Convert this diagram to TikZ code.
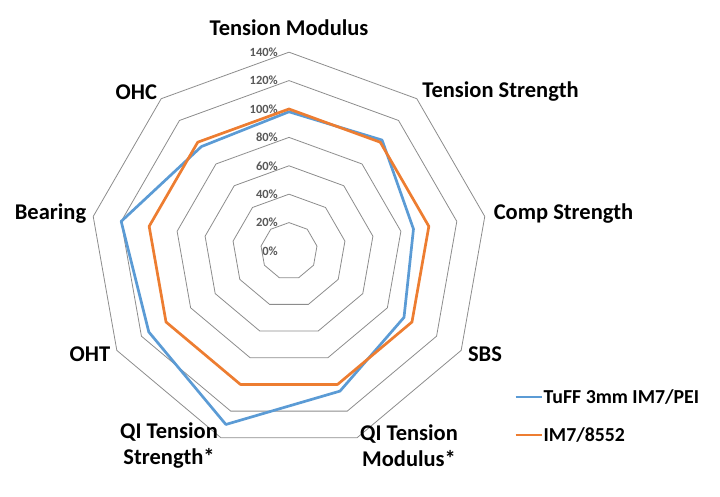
\documentclass[tikz,border=0pt]{standalone}
\usepackage{fontspec}
\setmainfont{Carlito}
\definecolor{tuffblue}{HTML}{5B9BD5}
\definecolor{im7orange}{HTML}{ED7D31}
\definecolor{ringgray}{HTML}{8C8C8C}
\definecolor{pctgray}{HTML}{595959}

\begin{document}
\begin{tikzpicture}[x=1pt,y=1pt,
  ring/.style={draw=ringgray,line width=0.8pt},
  pct/.style={anchor=east,inner sep=0pt,text=pctgray,font=\fontsize{12.5}{13}\selectfont\bfseries},
  cat/.style={align=center,inner sep=0pt,font=\fontsize{22.5}{26}\selectfont\bfseries},
  leg/.style={anchor=west,inner sep=0pt,font=\fontsize{19.8}{22}\selectfont\bfseries},
  tuff/.style={draw=tuffblue,line width=2.7pt,line join=round},
  im7/.style={draw=im7orange,line width=2.7pt,line join=round}]
\useasboundingbox (-289,-246) rectangle (431,251);

%rings, 20% steps
\draw[ring] (90:28.4) -- (50:28.4) -- (10:28.4) -- (-30:28.4) -- (-70:28.4) -- (-110:28.4) -- (-150:28.4) -- (170:28.4) -- (130:28.4) -- cycle;
\draw[ring] (90:56.8) -- (50:56.8) -- (10:56.8) -- (-30:56.8) -- (-70:56.8) -- (-110:56.8) -- (-150:56.8) -- (170:56.8) -- (130:56.8) -- cycle;
\draw[ring] (90:85.2) -- (50:85.2) -- (10:85.2) -- (-30:85.2) -- (-70:85.2) -- (-110:85.2) -- (-150:85.2) -- (170:85.2) -- (130:85.2) -- cycle;
\draw[ring] (90:113.6) -- (50:113.6) -- (10:113.6) -- (-30:113.6) -- (-70:113.6) -- (-110:113.6) -- (-150:113.6) -- (170:113.6) -- (130:113.6) -- cycle;
\draw[ring] (90:142) -- (50:142) -- (10:142) -- (-30:142) -- (-70:142) -- (-110:142) -- (-150:142) -- (170:142) -- (130:142) -- cycle;
\draw[ring] (90:170.4) -- (50:170.4) -- (10:170.4) -- (-30:170.4) -- (-70:170.4) -- (-110:170.4) -- (-150:170.4) -- (170:170.4) -- (130:170.4) -- cycle;
\draw[ring] (90:198.8) -- (50:198.8) -- (10:198.8) -- (-30:198.8) -- (-70:198.8) -- (-110:198.8) -- (-150:198.8) -- (170:198.8) -- (130:198.8) -- cycle;

\node[pct] (p0) at (-11,0) {0\%};
\node[pct] (p20) at (-11,28.4) {20\%};
\node[pct] (p40) at (-11,56.8) {40\%};
\node[pct] (p60) at (-11,85.2) {60\%};
\node[pct] (p80) at (-11,113.6) {80\%};
\node[pct] (p100) at (-11,142) {100\%};
\node[pct] (p120) at (-11,170.4) {120\%};
\node[pct] (p140) at (-11,198.8) {140\%};

%TuFF 3mm IM7/PEI
\coordinate (b1) at (90:139.2);
\coordinate (b2) at (50:144.8);
\coordinate (b3) at (10:126.4);
\coordinate (b4) at (-30:132.8);
\coordinate (b5) at (-70:149.1);
\coordinate (b6) at (-110:184.6);
\coordinate (b7) at (-150:161.9);
\coordinate (b8) at (170:170.4);
\coordinate (b9) at (130:136.3);
\path[tuff] (b1) -- (b2) -- (b3) -- (b4) -- (b5) -- (b6) -- (b7) -- (b8) -- (b9) -- cycle;

%IM7/8552
\coordinate (o1) at (90:142);
\coordinate (o2) at (50:142);
\coordinate (o3) at (10:142);
\coordinate (o4) at (-30:142);
\coordinate (o5) at (-70:142);
\coordinate (o6) at (-110:142);
\coordinate (o7) at (-150:142);
\coordinate (o8) at (170:142);
\coordinate (o9) at (130:142);
\path[im7] (o1) -- (o2) -- (o3) -- (o4) -- (o5) -- (o6) -- (o7) -- (o8) -- (o9) -- cycle;

\node[cat] (tm) at (0,223) {Tension Modulus};
\node[cat] (ts) at (211.5,159) {Tension Strength};
\node[cat] (cs) at (274.5,37) {Comp Strength};
\node[cat] (sbs) at (196,-103.5) {SBS};
\node[cat] (qim) at (120,-195) {QI Tension\\Modulus*};
\node[cat] (qis) at (-120,-195) {QI Tension\\Strength*};
\node[cat] (oht) at (-199,-103.5) {OHT};
\node[cat] (br) at (-238.5,37) {Bearing};
\node[cat] (ohc) at (-152.6,159) {OHC};

%legend
\coordinate (lb1) at (226.7,-146.3);
\coordinate (lb2) at (252.7,-146.3);
\path[draw=tuffblue,line width=2.2pt] (lb1) -- (lb2);
\node[leg] (ltuff) at (254.5,-146.3) {TuFF 3mm IM7/PEI};
\coordinate (lo1) at (226.7,-184);
\coordinate (lo2) at (252.7,-184);
\path[draw=im7orange,line width=2.2pt] (lo1) -- (lo2);
\node[leg] (lim7) at (254.5,-184) {IM7/8552};
\end{tikzpicture}
\end{document}
